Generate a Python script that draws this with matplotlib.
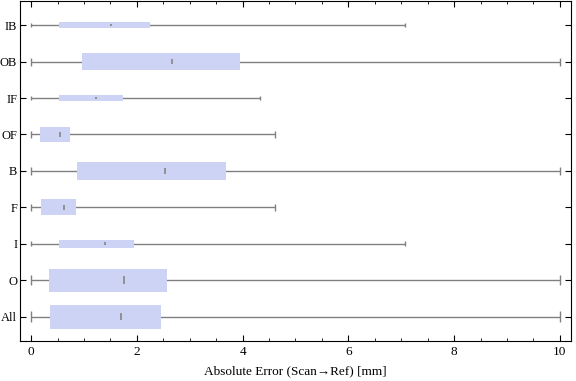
import matplotlib
matplotlib.use("Agg")
import matplotlib.pyplot as plt
from matplotlib.ticker import MultipleLocator

# Box-whisker summary per group
groups = ["All", "O", "I", "F", "B", "OF", "IF", "OB", "IB"]
mins = [0, 0, 0, 0, 0, 0, 0, 0, 0]
q1 = [0.36, 0.34, 0.53, 0.19, 0.87, 0.17, 0.53, 0.96, 0.53]
medians = [1.70, 1.75, 1.39, 0.63, 2.53, 0.55, 1.22, 2.67, 1.51]
q3 = [2.46, 2.57, 1.95, 0.85, 3.69, 0.74, 1.74, 3.95, 2.25]
maxs = [10, 10, 7.08, 4.62, 10, 4.62, 4.33, 10, 7.08]
box_heights = [0.66, 0.63, 0.22, 0.44, 0.49, 0.40, 0.16, 0.47, 0.16]

plt.rcParams["font.family"] = ["Liberation Serif", "DejaVu Serif"]

fig = plt.figure(figsize=(5.76, 3.81), dpi=100)
ax = fig.add_axes([0.0347, 0.105, 0.9566, 0.893])

pos = list(range(1, len(groups) + 1))
gray = "#808080"

# whiskers and caps
ax.hlines(pos, mins, maxs, color=gray, lw=1.0, zorder=1)
for p, lo, hi, h in zip(pos, mins, maxs, box_heights):
    cap = 0.35 * h + 0.05
    ax.vlines([lo, hi], p - cap / 2, p + cap / 2, color=gray, lw=1.0, zorder=1)

# boxes
ax.barh(pos, [b - a for a, b in zip(q1, q3)], left=q1, height=box_heights,
        color="#CDD3F5", edgecolor="none", zorder=2)

# median marks
for p, m, h in zip(pos, medians, box_heights):
    mh = 0.32 * h
    ax.vlines(m, p - mh / 2, p + mh / 2, color="#8c8c8c", lw=1.3, zorder=3)

ax.set_xlim(-0.21, 10.21)
ax.set_ylim(0.33, 9.67)
ax.set_yticks(pos)
ax.set_yticklabels(groups, fontsize=9)
ax.xaxis.set_major_locator(MultipleLocator(2))
ax.xaxis.set_minor_locator(MultipleLocator(0.5))
ax.tick_params(axis="x", which="major", direction="in", top=True, length=4, labelsize=9.5)
ax.tick_params(axis="x", which="minor", direction="in", top=True, length=2)
ax.tick_params(axis="y", direction="in", right=True, length=4, pad=2)
ax.set_xlabel("Absolute Error (Scan\u2192Ref) [mm]", fontsize=9.5, labelpad=5)

fig.savefig("out.png", dpi=100)
